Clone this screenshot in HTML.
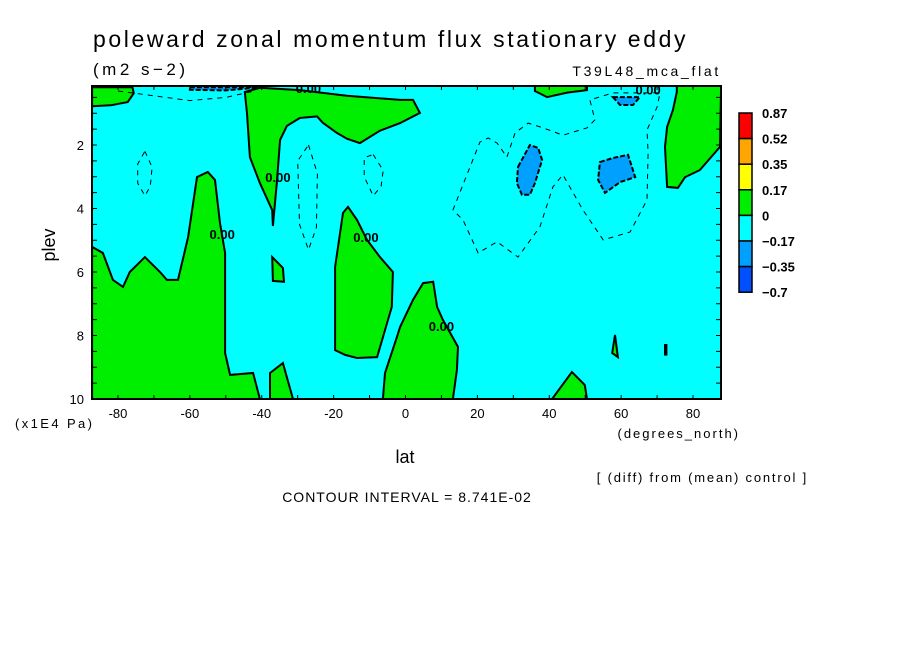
<!DOCTYPE html>
<html><head><meta charset="utf-8"><style>
body{margin:0;background:#fff;}
svg text{font-family:"Liberation Sans",sans-serif;fill:#000;}
</style></head><body>
<svg id="c" width="904" height="654" xmlns="http://www.w3.org/2000/svg">
<rect width="904" height="654" fill="#fff"/>
<text x="93" y="47" font-size="23" letter-spacing="2.6">poleward zonal momentum flux stationary eddy</text>
<text x="93" y="75" font-size="17" letter-spacing="3.5">(m2 s−2)</text>
<text x="721" y="76" font-size="14" letter-spacing="2.7" text-anchor="end">T39L48_mca_flat</text>
<text x="405" y="463" font-size="18" text-anchor="middle">lat</text>
<text transform="translate(55,245) rotate(-90)" font-size="18" text-anchor="middle">plev</text>
<text x="15" y="428" font-size="13" letter-spacing="2.4">(x1E4 Pa)</text>
<text x="740" y="438" font-size="13" letter-spacing="2" text-anchor="end">(degrees_north)</text>
<text x="808" y="482" font-size="13" letter-spacing="1.8" text-anchor="end">[ (diff) from (mean) control ]</text>
<text x="407" y="502" font-size="14" letter-spacing="1" text-anchor="middle">CONTOUR INTERVAL = 8.741E-02</text>
<g id="plot"></g>
</svg>
<script>
const xTicks=[-80,-60,-40,-20,0,20,40,60,80];
const yTicks=[2,4,6,8,10];
const cbLabels=["0.87","0.52","0.35","0.17","0","−0.17","−0.35","−0.7"];
const cbColors=["#ff0000","#ffa500","#ffff00","#00ee00","#00ffff","#00a0ff","#0050ff"];
const greenRegions=[
[[-87.2,5.21],[-84.2,5.40],[-81.4,6.25],[-78.6,6.47],[-76.7,6.0],[-72.5,5.53],[-68.3,6.0],[-66.4,6.25],[-63.3,6.25],[-60.5,4.9],[-58,3.01],[-55,2.85],[-53,3.1],[-51.6,4.46],[-50.2,5.4],[-50.2,8.55],[-48.8,9.24],[-42.4,9.18],[-40.5,10],[-87.2,10]],
[[-87.2,0.18],[-76,0.18],[-75.6,0.37],[-77.3,0.65],[-82,0.75],[-87.2,0.78]],
[[-44.7,0.33],[-44.1,1.0],[-43.3,2.38],[-40.5,3.2],[-37.1,4.05],[-36.9,4.55],[-35.8,3.2],[-34.9,1.84],[-33,1.4],[-29.4,1.15],[-24.6,1.1],[-23,1.3],[-19.1,1.62],[-16.3,1.8],[-12.7,1.94],[-7.1,1.55],[-1.5,1.31],[4,0.99],[2.1,0.58],[-1.5,0.58],[-16.3,0.45],[-29.4,0.27],[-40.5,0.2]],
[[-37.1,5.53],[-34.1,5.87],[-33.8,6.31],[-36.9,6.28]],
[[-37.7,9.18],[-34.1,8.87],[-31.3,10],[-37.7,10]],
[[-19.6,5.84],[-17.4,4.14],[-16,3.95],[-13.5,4.36],[-10.7,4.99],[-7.1,5.53],[-3.5,6.0],[-3.8,7.1],[-5.7,7.83],[-7.9,8.68],[-13.5,8.71],[-16.8,8.61],[-19.6,8.46]],
[[-6.3,10],[-5.7,9.18],[-2.4,8.05],[-1.5,7.73],[2.1,6.88],[4.9,6.35],[7.7,6.31],[8.8,7.1],[10.4,7.51],[14.6,8.36],[14.3,9.09],[13.2,10]],
[[40.8,10],[46.3,9.15],[49.9,9.56],[50.5,10]],
[[57.5,8.55],[58.3,7.98],[59.1,8.68]],
[[75.5,0.14],[75.5,0.33],[74.4,0.9],[72.8,1.43],[72.2,2.06],[72.8,3.32],[75.8,3.35],[77.8,3.01],[81.9,2.79],[87.5,2.06],[87.8,0.14]],
[[36,0.14],[36,0.3],[39.4,0.49],[45,0.35],[50.5,0.27],[50.5,0.14]],
[[72.2,8.3],[72.6,8.3],[72.6,8.6],[72.2,8.6]]
];
const blueRegions=[
[[31.3,2.69],[34.6,2.0],[36.9,2.09],[38,2.47],[36,3.2],[34.6,3.57],[32.4,3.57],[31,3.2]],
[[54.1,2.54],[57.7,2.41],[61.9,2.31],[63.9,3.01],[59.7,3.17],[55.5,3.51],[53.6,3.1]],
[[57.7,0.49],[65.2,0.49],[63.3,0.74],[59.7,0.74]],
[[-60,0.18],[-40,0.18],[-50,0.28],[-60,0.26]]
];
const dashedLines=[
[[13.2,4.05],[20.7,1.91],[23,1.78],[25.5,1.94],[28.2,2.38],[30.5,1.62],[34.1,1.31],[38.3,1.46],[43.8,1.69],[50.5,1.46],[52.7,1.21],[51.3,0.58],[57.7,0.36],[70.8,0.36],[70,0.8],[67.2,1.53],[67.5,2.25],[67.2,3.73],[62.5,4.74],[55,4.99],[49.4,4.05],[43.8,2.94],[41,3.32],[37.4,4.58],[31.3,5.53],[25.5,5.05],[20.2,5.4],[16,4.36],[13.2,4.05]],
[[-72.5,2.2],[-70.5,2.7],[-71,3.3],[-72.5,3.6],[-74.5,3.2],[-74.5,2.6],[-72.5,2.2]],
[[-27,2.0],[-24.5,2.9],[-24.8,4.6],[-27,5.3],[-29.5,4.5],[-30,2.5],[-27,2.0]],
[[-9,2.3],[-6.2,2.8],[-6.8,3.3],[-9,3.6],[-11.5,3.0],[-11.5,2.4],[-9,2.3]],
[[-80,0.3],[-70,0.45],[-60,0.6],[-50,0.5],[-42,0.3]]
];
const zeroLabels=[[-27,0.2],[-35.5,3.0],[-51,4.8],[-11,4.9],[10,7.7],[67.5,0.25]];

const X0=92,X1=721,Y0=86,Y1=399;
const xs=v=>405.5+v*3.594;
const ys=v=>399-(10-v)*31.75;
const ns="http://www.w3.org/2000/svg";
const g=document.getElementById('plot');
function mk(t,a,p){const e=document.createElementNS(ns,t);for(const k in a)e.setAttribute(k,a[k]);(p||g).appendChild(e);return e;}
const clip=mk('clipPath',{id:'pc'});mk('rect',{x:X0,y:Y0,width:X1-X0,height:Y1-Y0},clip);
const bg=mk('rect',{x:X0,y:Y0,width:X1-X0,height:Y1-Y0,fill:'#00ffff'});


const pg=mk('g',{'clip-path':'url(#pc)'});


const pts=a=>a.map(p=>xs(p[0]).toFixed(1)+','+ys(p[1]).toFixed(1)).join(' ');
greenRegions.forEach((r,i)=>{const e=mk('polygon',{points:pts(r),fill:'#00ee00',stroke:'#000','stroke-width':2},pg);

});
blueRegions.forEach((r,i)=>{const e=mk('polygon',{points:pts(r),fill:'#00a0ff',stroke:'#000','stroke-width':2,'stroke-dasharray':'5,2'},pg);

});
dashedLines.forEach((r,i)=>{const e=mk('polyline',{points:pts(r),fill:'none',stroke:'#000','stroke-width':1,'stroke-dasharray':'5,5'},pg);

});
zeroLabels.forEach((z,i)=>{const e=mk('text',{x:xs(z[0]),y:ys(z[1])+5,'font-size':13,'font-weight':'bold','text-anchor':'middle'},pg);e.textContent='0.00';

});
const fr=mk('rect',{x:X0,y:Y0,width:X1-X0,height:Y1-Y0,fill:'none',stroke:'#000','stroke-width':2});


for(let v=-80;v<=80;v+=10){mk('line',{x1:xs(v),x2:xs(v),y1:Y1,y2:Y1-4,stroke:'#000'});mk('line',{x1:xs(v),x2:xs(v),y1:Y0,y2:Y0+4,stroke:'#000'});}
for(let v=0.5;v<10;v+=0.5){mk('line',{x1:X0,x2:X0+5,y1:ys(v),y2:ys(v),stroke:'#000'});mk('line',{x1:X1,x2:X1-5,y1:ys(v),y2:ys(v),stroke:'#000'});}
xTicks.forEach(v=>{const e=mk('text',{x:xs(v),y:418,'font-size':13,'text-anchor':'middle'});e.textContent=v;

});
yTicks.forEach(v=>{const e=mk('text',{x:84,y:ys(v)+5,'font-size':13,'text-anchor':'end'});e.textContent=v;

});
const cbTop=113,cbH=25.6;
cbColors.forEach((c,i)=>{const e=mk('rect',{x:739,y:cbTop+i*cbH,width:13,height:cbH,fill:c,stroke:'#000','stroke-width':1.5});

});
cbLabels.forEach((l,i)=>{const e=mk('text',{x:762,y:cbTop+i*cbH+5,'font-size':13,'font-weight':'bold'});e.textContent=l;

});
</script>
</body></html>
